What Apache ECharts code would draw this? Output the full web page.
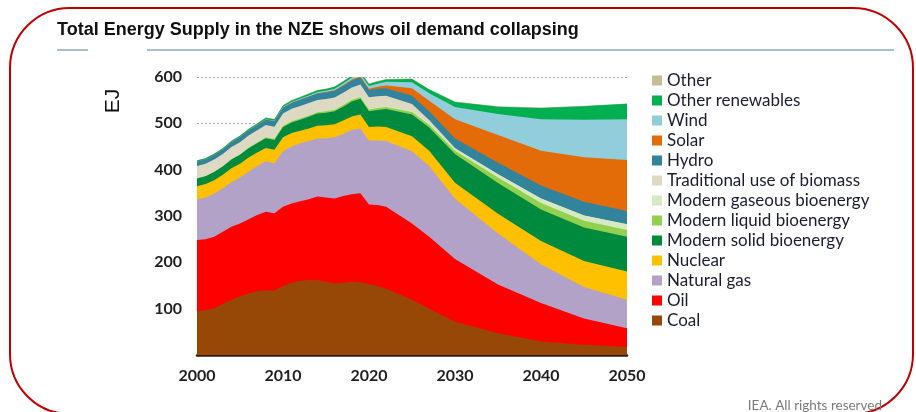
<!DOCTYPE html>
<html>
<head>
<meta charset="utf-8">
<script src="https://cdn.jsdelivr.net/npm/echarts@6/dist/echarts.min.js"></script>
<style>
  html, body { margin: 0; padding: 0; background: #ffffff; }
  #chart { width: 916px; height: 412px; }
</style>
</head>
<body>
<div id="chart"></div>
<script>
// Total energy supply by source (EJ): history to 2020, Net Zero pathway to 2050
const years = [2000, 2001, 2002, 2003, 2004, 2005, 2006, 2007, 2008, 2009,
               2010, 2011, 2012, 2013, 2014, 2015, 2016, 2017, 2018, 2019,
               2020, 2021, 2022, 2025, 2027, 2030, 2035, 2040, 2045, 2050];

const coal = [94, 97, 101, 110, 119, 127, 133, 138, 140, 139,
              149, 156, 160, 162, 162, 158, 155, 156, 158, 157,
              153, 149, 143, 119, 100, 72, 47, 29, 22, 17];
const oil = [154, 153, 154, 156, 158, 157, 160, 164, 169, 167,
             171, 171, 172, 174, 180, 182, 183, 187, 189, 192,
             172, 175, 177, 165, 155, 135, 105, 83, 57, 41];
const naturalGas = [88, 90, 93, 94, 96, 99, 103, 106, 109, 108,
                    120, 123, 125, 126, 125, 128, 132, 134, 139, 140,
                    138, 139, 142, 156, 153, 130, 110, 84, 68, 61];
const nuclear = [28, 29, 29, 29, 30, 30, 30, 29, 29, 29,
                 30, 29, 27, 27, 28, 28, 28, 29, 29, 30,
                 29, 30, 30, 32, 33, 35, 43, 50, 56, 61];
const modernSolidBio = [17, 17, 18, 18, 19, 19, 20, 20, 21, 21,
                        22, 23, 24, 25, 26, 27, 28, 30, 32, 34,
                        34, 36, 39, 47, 50, 62, 66, 68, 72, 75];
const modernLiquidBio = [0.4, 0.4, 0.5, 0.6, 0.7, 0.8, 1.1, 1.4, 1.8, 2.0,
                         2.4, 2.5, 2.6, 2.8, 3.1, 3.3, 3.4, 3.6, 3.9, 4.1,
                         3.7, 4.0, 4.3, 5.5, 6, 7, 12, 14, 15, 15];
const modernGaseousBio = [0.3, 0.3, 0.4, 0.4, 0.4, 0.5, 0.5, 0.6, 0.7, 0.7,
                          0.8, 0.9, 1.0, 1.1, 1.2, 1.3, 1.3, 1.4, 1.5, 1.5,
                          1.6, 1.7, 2.0, 3, 3, 4, 7, 10, 11, 12];
const traditionalBiomass = [26, 26, 26, 26, 26, 26, 26, 26, 26, 26,
                            26, 26, 26, 26, 25, 25, 25, 25, 25, 25,
                            25, 24, 22, 14, 7, 2, 0, 0, 0, 0];
const hydro = [9.4, 9.3, 9.5, 9.6, 10.1, 10.5, 10.8, 11.0, 11.5, 11.6,
               12.4, 12.6, 13.1, 13.5, 13.9, 14.0, 14.5, 14.6, 15.1, 15.3,
               15.6, 16, 16.5, 18, 19, 20, 25, 28, 30, 29];
const solar = [0, 0, 0, 0, 0, 0.1, 0.1, 0.1, 0.1, 0.2,
               0.3, 0.3, 0.4, 0.5, 0.7, 0.9, 1.2, 1.6, 2.0, 2.4,
               3.0, 4, 6, 16, 23, 42, 60, 75, 96, 110];
const wind = [0.1, 0.1, 0.2, 0.2, 0.3, 0.4, 0.5, 0.6, 0.8, 1.0,
              1.2, 1.6, 1.9, 2.3, 2.6, 3.0, 3.4, 4.0, 4.5, 5.1,
              5.6, 7, 8, 13, 16, 26, 45, 68, 81, 88];
const otherRenewables = [2.4, 2.4, 2.5, 2.5, 2.6, 2.7, 2.8, 2.9, 3.0, 3.1,
                         3.3, 3.4, 3.5, 3.6, 3.7, 3.8, 3.9, 4.0, 4.1, 4.2,
                         4.3, 4.5, 5, 7, 8, 11, 16, 24, 29, 33];
const other = [0.6, 0.6, 0.6, 0.6, 0.7, 0.7, 0.7, 0.7, 0.8, 0.8,
               0.8, 0.8, 0.9, 0.9, 0.9, 0.9, 0.9, 1.0, 1.0, 1.0,
               1.0, 1, 1, 1, 1, 1, 1, 1, 1, 1];

// Sources from the bottom of the stack to the top
const layers = [
  { name: 'Coal', data: coal, color: '#974706' },
  { name: 'Oil', data: oil, color: '#ff0000' },
  { name: 'Natural gas', data: naturalGas, color: '#b3a2c7' },
  { name: 'Nuclear', data: nuclear, color: '#ffc000' },
  { name: 'Modern solid bioenergy', data: modernSolidBio, color: '#008a3e' },
  { name: 'Modern liquid bioenergy', data: modernLiquidBio, color: '#92d050' },
  { name: 'Modern gaseous bioenergy', data: modernGaseousBio, color: '#d7e9c0' },
  { name: 'Traditional use of biomass', data: traditionalBiomass, color: '#ddd9c3' },
  { name: 'Hydro', data: hydro, color: '#31849b' },
  { name: 'Solar', data: solar, color: '#e36c09' },
  { name: 'Wind', data: wind, color: '#92cddc' },
  { name: 'Other renewables', data: otherRenewables, color: '#00b050' },
  { name: 'Other', data: other, color: '#c4bd97' }
];

const FONT = 'Lato, "Open Sans", sans-serif';

// Running totals: each area is filled from the axis up to its cumulative top;
// upper layers are painted first so the lower ones sit in front of them.
const running = years.map(() => 0);
const stacked = layers.map(l => {
  const tops = l.data.map((v, i) => (running[i] += v));
  return { name: l.name, color: l.color, points: years.map((y, i) => [y, tops[i]]) };
});

const series = stacked.slice().reverse().map(s => ({
  name: s.name,
  type: 'line',
  data: s.points,
  symbol: 'none',
  showSymbol: false,
  lineStyle: { width: 0 },
  itemStyle: { color: s.color },
  areaStyle: { color: s.color, opacity: 1, origin: 'start' },
  emphasis: { disabled: true }
}));

const chart = echarts.init(document.getElementById('chart'), null, { renderer: 'canvas' });

const option = {
  animation: false,
  backgroundColor: '#ffffff',
  grid: { left: 197, right: 289, top: 77, bottom: 57 },
  xAxis: {
    type: 'value',
    min: 2000, max: 2050, interval: 10,
    axisLine: { show: true, lineStyle: { color: '#2a1d12', width: 2.5 } },
    axisTick: { show: false },
    splitLine: { show: false },
    axisLabel: {
      margin: 13, color: '#1f1f1f', fontFamily: FONT, fontWeight: 'bold', fontSize: 16,
      formatter: v => String(v)
    }
  },
  yAxis: {
    type: 'value',
    min: 0, max: 600, interval: 100,
    axisLine: { show: false },
    axisTick: { show: false },
    splitLine: { show: true, lineStyle: { type: [2, 2], color: '#a8a8a8', width: 1 } },
    axisLabel: {
      margin: 15, color: '#1f1f1f', fontFamily: FONT, fontWeight: 'bold', fontSize: 16,
      formatter: v => (v === 0 ? '' : String(v))
    }
  },
  legend: {
    orient: 'vertical',
    left: 652, top: 72,
    padding: 0,
    itemWidth: 10, itemHeight: 10, itemGap: 3,
    icon: 'rect',
    selectedMode: false,
    data: layers.map(l => l.name).reverse(),
    textStyle: { fontFamily: FONT, fontSize: 17, color: '#1c1c30' }
  },
  graphic: [
    {
      type: 'rect', silent: true,
      shape: { x: 10, y: 8, width: 903, height: 406, r: 60 },
      style: { fill: 'none', stroke: '#c00000', lineWidth: 2 }
    },
    {
      type: 'text', left: 57, top: 21,
      style: {
        text: 'Total Energy Supply in the NZE shows oil demand collapsing',
        font: 'bold 18px "Liberation Sans", Arial, sans-serif', fill: '#111111'
      }
    },
    {
      type: 'line', silent: true,
      shape: { x1: 57, y1: 50, x2: 88, y2: 50 },
      style: { stroke: '#8fa9bd', lineWidth: 1.5 }
    },
    {
      type: 'line', silent: true,
      shape: { x1: 147, y1: 50, x2: 894, y2: 50 },
      style: { stroke: '#8fa9bd', lineWidth: 1.5 }
    },
    {
      type: 'text', x: 113, y: 101, rotation: Math.PI / 2,
      style: {
        text: 'EJ', font: '21px "Liberation Sans", Arial, sans-serif', fill: '#111111',
        align: 'center', verticalAlign: 'middle'
      }
    },
    {
      type: 'text', x: 882, y: 406,
      style: {
        text: 'IEA. All rights reserved', font: '13.5px ' + FONT, fill: '#7a7a7a',
        align: 'right', verticalAlign: 'middle'
      }
    }
  ],
  series
};

chart.setOption(option);
</script>
</body>
</html>
